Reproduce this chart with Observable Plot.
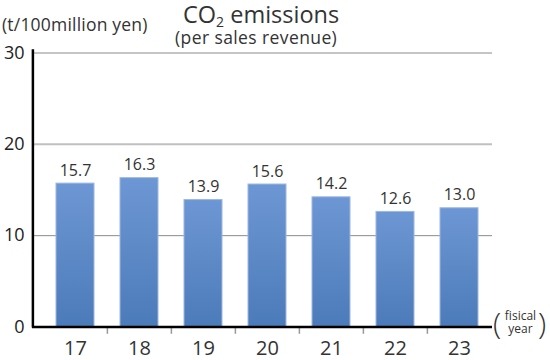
<!DOCTYPE html>
<html>
<head>
<meta charset="utf-8">
<script src="https://cdn.jsdelivr.net/npm/d3@7"></script>
<script src="https://cdn.jsdelivr.net/npm/@observablehq/plot@0.6"></script>
<style>
  html, body { margin: 0; padding: 0; background: #fff; }
  #wrap { position: relative; width: 550px; height: 360px; font-family: "Open Sans", "Noto Sans", sans-serif; color: #333; }
  .abs { position: absolute; white-space: nowrap; }
</style>
</head>
<body>
<div id="wrap">
  <div class="abs" style="left:183px; top:3px; font-size:23.5px; line-height:22px; color:#333;">CO<span style="font-size:14px; position:relative; top:4px;">2</span> emissions</div>
  <div class="abs" style="left:175px; top:29px; font-size:17.5px; line-height:17px; letter-spacing:0.4px; color:#333;">(per sales revenue)</div>
  <div class="abs" style="left:2px; top:15px; font-size:17.5px; line-height:18px; letter-spacing:0.2px; color:#333;">(t/100million yen)</div>
  <div class="abs" style="left:493px; top:309px; font-size:30px; line-height:28px; font-weight:300; color:#333;">(</div>
  <div class="abs" style="left:504px; top:309px; font-size:12px; line-height:13px; text-align:center; width:33px; color:#333;">fisical<br>year</div>
  <div class="abs" style="left:538px; top:309px; font-size:30px; line-height:28px; font-weight:300; color:#333;">)</div>
</div>
<script>
const years = ["17", "18", "19", "20", "21", "22", "23"];
const values = [15.7, 16.3, 13.9, 15.6, 14.2, 12.6, 13.0];
const yTicks = [0, 10, 20, 30];
const gridLines = [10, 20, 30];

const data = years.map((y, i) => ({year: y, value: values[i]}));
const step = (492 - 42.5) / years.length;

const chart = Plot.plot({
  width: 550,
  height: 360,
  marginTop: 52.5,
  marginBottom: 33.5,
  marginLeft: 32,
  marginRight: 58,
  style: {fontFamily: "'Open Sans', 'Noto Sans', sans-serif", color: "#333", background: "transparent"},
  x: {domain: years, range: [42.5, 492], padding: 0, label: null},
  y: {domain: [0, 30], label: null},
  marks: [
    Plot.ruleY(gridLines, {y: d => d, stroke: d => d === 20 ? "#c0c0c0" : "#8a8a8a", strokeWidth: d => d === 20 ? 2 : 1}),
    Plot.barY(data, {x: "year", y: "value", fill: "url(#barGrad)", insetLeft: 13, insetRight: 13, stroke: "#9cb8e3", strokeWidth: 1}),
    Plot.text(data, {x: "year", y: "value", text: d => d.value.toFixed(1), dy: -13, fontSize: 16, fill: "#333"}),
    Plot.ruleX(years.slice(1), {x: d => d, dx: -step / 2, y1: 0, y2: -0.8, stroke: "#999", strokeWidth: 1.5}),
    Plot.ruleY([0], {stroke: "#000", strokeWidth: 2.5}),
    Plot.ruleX([years[0]], {x: d => d, dx: -(step / 2 + 10.5), y1: -0.1, y2: 30.35, stroke: "#000", strokeWidth: 2.5}),
    Plot.axisY({ticks: yTicks, tickSize: 0, tickPadding: 8, fontSize: 18, fill: "#222", label: null}),
    Plot.axisX({tickSize: 0, tickPadding: 14, fontSize: 20, fill: "#333", label: null})
  ]
});

const ns = "http://www.w3.org/2000/svg";
const defs = document.createElementNS(ns, "defs");
defs.innerHTML = '<linearGradient id="barGrad" x1="0" y1="0" x2="0" y2="1"><stop offset="0" stop-color="#6d97d4"/><stop offset="1" stop-color="#4c7bb9"/></linearGradient>';
chart.insertBefore(defs, chart.firstChild);
chart.style.position = "absolute";
chart.style.left = "0";
chart.style.top = "0";
const wrap = document.getElementById("wrap");
wrap.insertBefore(chart, wrap.firstChild);
</script>
</body>
</html>
